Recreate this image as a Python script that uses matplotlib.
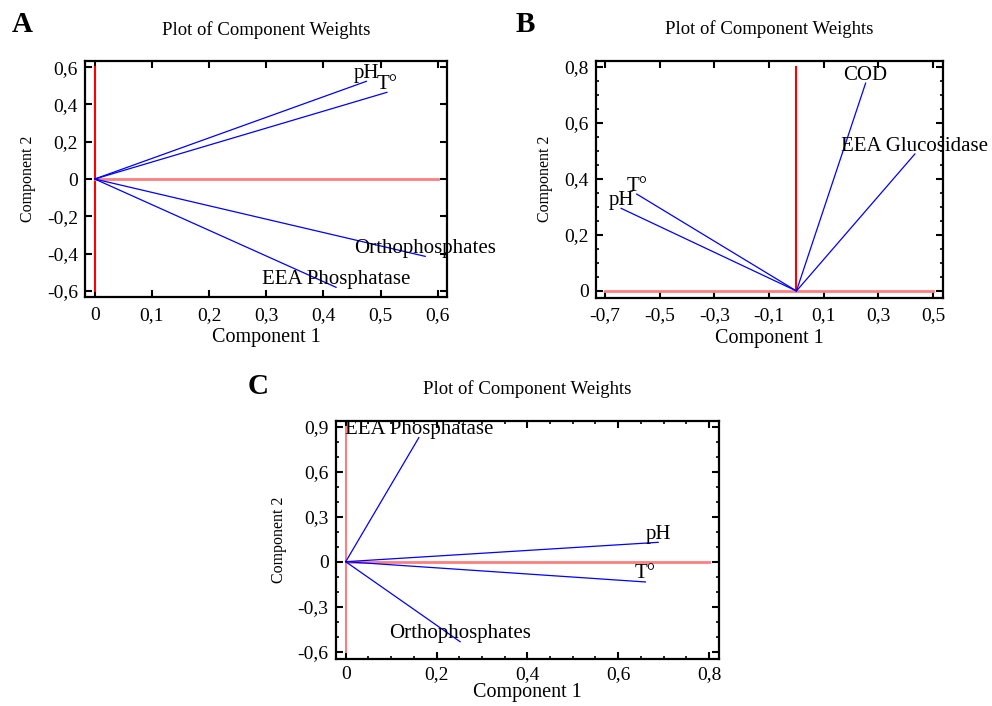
import matplotlib
matplotlib.use("Agg")
import matplotlib.pyplot as plt
from matplotlib.ticker import FixedLocator, FuncFormatter

# ---------------- data ----------------
a_vars = ["pH", "T°", "Orthophosphates", "EEA Phosphatase"]
a_comp1 = [0.475, 0.511, 0.578, 0.422]
a_comp2 = [0.524, 0.465, -0.415, -0.581]
a_xticks = [0, 0.1, 0.2, 0.3, 0.4, 0.5, 0.6]
a_yticks = [-0.6, -0.4, -0.2, 0, 0.2, 0.4, 0.6]

b_vars = ["COD", "EEA Glucosidase", "T°", "pH"]
b_comp1 = [0.253, 0.433, -0.584, -0.641]
b_comp2 = [0.742, 0.489, 0.346, 0.295]
b_xticks = [-0.7, -0.5, -0.3, -0.1, 0.1, 0.3, 0.5]
b_yticks = [0, 0.2, 0.4, 0.6, 0.8]
b_yminor = [0.05, 0.1, 0.15, 0.25, 0.3, 0.35, 0.45, 0.5, 0.55, 0.65, 0.7, 0.75]

c_vars = ["EEA Phosphatase", "pH", "T°", "Orthophosphates"]
c_comp1 = [0.161, 0.688, 0.660, 0.252]
c_comp2 = [0.826, 0.129, -0.135, -0.533]
c_xticks = [0, 0.2, 0.4, 0.6, 0.8]
c_xminor = [0.05, 0.1, 0.15, 0.25, 0.3, 0.35, 0.45, 0.5, 0.55, 0.65, 0.7, 0.75]
c_yticks = [-0.6, -0.3, 0, 0.3, 0.6, 0.9]
c_yminor = [-0.5, -0.4, -0.2, -0.1, 0.1, 0.2, 0.4, 0.5, 0.7, 0.8]

title = "Plot of Component Weights"
xlabel = "Component 1"
ylabel = "Component 2"

# ---------------- style ----------------
plt.rcParams['font.family'] = ['Liberation Serif', 'DejaVu Serif']
fig = plt.figure(figsize=(9.92, 7.06), dpi=100)
fig.patch.set_facecolor("white")


def fmt(v, pos=None):
    if abs(v) < 1e-9:
        return "0"
    return ("%.1f" % v).replace(".", ",")


def panel(rect, letter, letter_xy, vars_, c1, c2, xticks, yticks, xlim, ylim,
          xminor=None, yminor=None, vcolor="red", xtickpad=7, xlabelpad=3):
    ax = fig.add_axes(rect)
    ax.set_xlim(*xlim)
    ax.set_ylim(*ylim)
    for s in ax.spines.values():
        s.set_linewidth(1.6)
    ax.xaxis.set_major_locator(FixedLocator(xticks))
    ax.yaxis.set_major_locator(FixedLocator(yticks))
    ax.xaxis.set_major_formatter(FuncFormatter(fmt))
    ax.yaxis.set_major_formatter(FuncFormatter(fmt))
    if xminor is not None:
        ax.xaxis.set_minor_locator(FixedLocator(xminor))
    if yminor is not None:
        ax.yaxis.set_minor_locator(FixedLocator(yminor))
    ax.tick_params(which="both", direction="in", top=True, right=True,
                   length=5, width=1.5, labelsize=14)
    ax.tick_params(axis="x", pad=xtickpad)
    ax.tick_params(axis="y", pad=5)
    ax.tick_params(which="minor", length=2.5, width=1.2)
    # reference lines
    ax.plot([0, 0], [min(yticks), max(yticks)], color=vcolor, lw=1.5, zorder=2)
    ax.plot([min(xticks), max(xticks)], [0, 0], color="#ff7f7f", lw=2.0, zorder=2)
    for name, x, y in zip(vars_, c1, c2):
        ax.plot([0, x], [0, y], color="blue", lw=0.9, zorder=3)
        ax.annotate(name, (x, y), xytext=(0, 2.5), textcoords="offset points",
                    ha="center", va="baseline", fontsize=15, zorder=4,
                    annotation_clip=False)
    ax.text(0.5, 1.133, title, transform=ax.transAxes, ha="center",
            va="center", fontsize=13.5)
    ax.set_xlabel(xlabel, fontsize=14.5, labelpad=xlabelpad)
    ax.set_ylabel(ylabel, fontsize=11.5, labelpad=8)
    fig.text(letter_xy[0], letter_xy[1], letter, fontsize=21,
             fontweight="bold", ha="center", va="center")
    return ax


panel([0.0857, 0.5793, 0.3649, 0.3343], "A", (22 / 992, 1 - 24 / 706),
      a_vars, a_comp1, a_comp2, a_xticks, a_yticks,
      (-0.017, 0.616), (-0.633, 0.633))

panel([0.6005, 0.5783, 0.3504, 0.3357], "B", (525 / 992, 1 - 24 / 706),
      b_vars, b_comp1, b_comp2, b_xticks, b_yticks,
      (-0.734, 0.537), (-0.024, 0.822), yminor=b_yminor)

panel([0.3384, 0.0670, 0.3864, 0.3371], "C", (258 / 992, 1 - 386 / 706),
      c_vars, c_comp1, c_comp2, c_xticks, c_yticks,
      (-0.022, 0.822), (-0.646, 0.939),
      xminor=c_xminor, yminor=c_yminor, vcolor="#ff7f7f",
      xtickpad=5, xlabelpad=0)

fig.savefig("out.png", dpi=100, facecolor="white")
